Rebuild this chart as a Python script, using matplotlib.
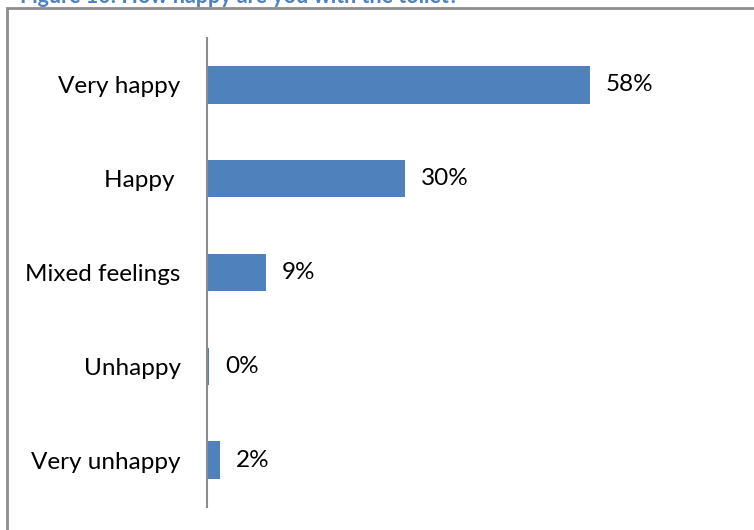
import matplotlib.pyplot as plt
from matplotlib.patches import Rectangle

categories = ['Very happy', 'Happy ', 'Mixed feelings', 'Unhappy', 'Very unhappy']
values = [58, 30, 9, 0.3, 2]
labels = ['58%', '30%', '9%', '0%', '2%']

plt.rcParams['font.family'] = ['Lato', 'DejaVu Sans']

fig = plt.figure(figsize=(7.54, 5.30), dpi=100)
W, H = 754, 530

# outer frame of the chart box
fig.patches.append(Rectangle((7 / W, -0.05), 1.1, 1 - 8 / H + 0.05, transform=fig.transFigure,
                             fill=False, edgecolor='#8c8c8c', linewidth=2))

# caption, cut off at the top
fig.text(20 / W, 1 - 3 / H, 'Figure 10: How happy are you with the toilet?', color='#4f81bd',
         fontsize=15.5, fontweight='bold', va='baseline', ha='left')

ax = fig.add_axes([207 / W, 1 - 507 / H, (669 - 207) / W, (507 - 38) / H])
y = list(range(len(categories)))
ax.barh(y, values, height=0.4, color='#4f81bd')
ax.set_ylim(4.5, -0.5)
ax.set_xlim(0, 70)

for yi, v, lab in zip(y, values, labels):
    ax.text(v + 2.4, yi, lab, va='center', ha='left', fontsize=17.5)

ax.set_yticks(y)
ax.set_yticklabels(categories, fontsize=17.5)
ax.tick_params(axis='y', length=0, pad=19)
ax.set_xticks([])
for s in ['top', 'right', 'bottom']:
    ax.spines[s].set_visible(False)
ax.spines['left'].set_color('#8c8c8c')
ax.spines['left'].set_linewidth(1.5)

fig.savefig('out.png', dpi=100)
